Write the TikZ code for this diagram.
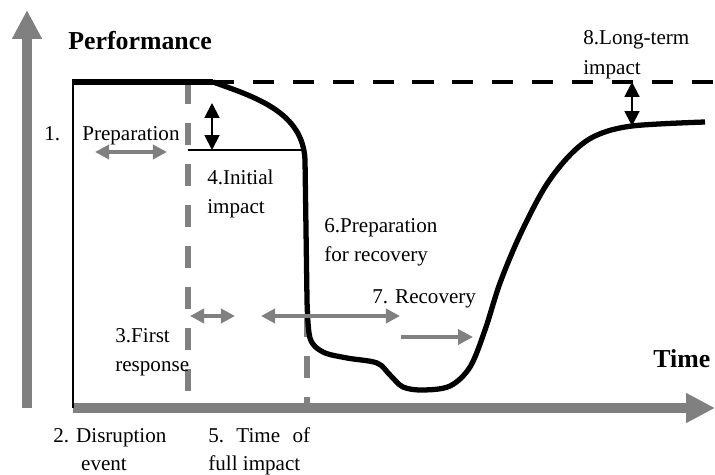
\documentclass[tikz,border=0pt]{standalone}
\usepackage{fontspec}
\setmainfont{Liberation Serif}
\usetikzlibrary{arrows.meta}
\definecolor{AxisGray}{HTML}{808080}

\begin{document}
\begin{tikzpicture}[x=0.02cm, y=-0.02cm,
    axis/.style={AxisGray, line width=5.7pt, -{Triangle[length=16.5pt, width=16pt]}},
    span/.style={AxisGray, line width=2.4pt, {Triangle[length=8pt, width=8pt]}-{Triangle[length=8pt, width=8pt]}},
    push/.style={AxisGray, line width=2.4pt, -{Triangle[length=8.5pt, width=8.5pt]}},
    guide/.style={AxisGray, line width=3.2pt, dash pattern=on 12.8pt off 10.5pt},
    dim/.style={line width=1.1pt, {Triangle[length=8.5pt, width=8.5pt]}-{Triangle[length=8.5pt, width=8.5pt]}},
    curve/.style={line width=3pt},
    lbl/.style={anchor=base west, inner sep=0pt, font=\fontsize{12}{14}\selectfont},
    head/.style={anchor=base west, inner sep=0pt, font=\fontsize{14.7}{17}\selectfont\bfseries}]
    \useasboundingbox (0,0) rectangle (715,475);

    % axes
    \coordinate (yfoot) at (27,408);
    \coordinate (ytip) at (27,10);
    \coordinate (xfoot) at (73,408);
    \coordinate (xtip) at (715,408);
    \node[head] (perf) at (68,50) {Performance};
    \node[head] (time) at (653,367) {Time};

    % phase boundaries
    \draw[guide] (188,82) -- (188,391);
    \draw[guide] (307,315) -- (307,408);
    \draw[axis] (yfoot) -- (ytip);
    \draw[axis] (xfoot) -- (xtip);

    % performance level
    \draw[line width=1.5pt] (73,408) -- (73,82);
    \draw[curve] (72,82) -- (213,82);
    \draw[line width=2.8pt, dash pattern=on 12pt off 10.7pt] (213,82) -- (715,82);
    \draw[curve] (213,82) .. controls (255,97) and (303,112) .. (305,160)
      -- plot[smooth, tension=0.55] coordinates {(307,300) (310,338) (323,352)
      (347,358) (377,363) (390,375) (403,387) (423,390) (450,386) (470,367)
      (485,330) (500,283) (520,235) (545,187) (570,155) (595,136)
      (632,126) (705,122)};

    % impacts
    \draw[line width=0.8pt] (188,150) -- (305,150);
    \draw[dim] (212,103) -- (212,150);
    \draw[dim] (632,82) -- (632,126);

    % phases
    \draw[span] (95,152) -- (167,152);
    \draw[span] (190,316) -- (235,316);
    \draw[span] (261,316) -- (400,316);
    \draw[push] (401,337) -- (473,337);

    \node[lbl] (one) at (44,141) {1.};
    \node[lbl] (prep) at (82,141) {Preparation};
    \node[lbl] (init) at (207,185) {4.Initial};
    \node[lbl] (initb) at (207,214) {impact};
    \node[lbl] (forrec) at (324,233) {6.Preparation};
    \node[lbl] (forrecb) at (324,262) {for recovery};
    \node[lbl] (rec) at (372,304) {7. Recovery};
    \node[lbl] (longterm) at (583,45) {8.Long-term};
    \node[lbl] (longtermb) at (583,75) {impact};
    \node[lbl] (first) at (115,342) {3.First};
    \node[lbl] (firstb) at (115,372) {response};
    \node[lbl] (disr) at (53,442) {2. Disruption};
    \node[lbl, anchor=base] (disrb) at (104,470) {event};
    \node[lbl] (full) at (208,442) {5.\hspace{7pt}Time\hspace{7pt}of};
    \node[lbl] (fullb) at (208,470) {full impact};
\end{tikzpicture}
\end{document}
